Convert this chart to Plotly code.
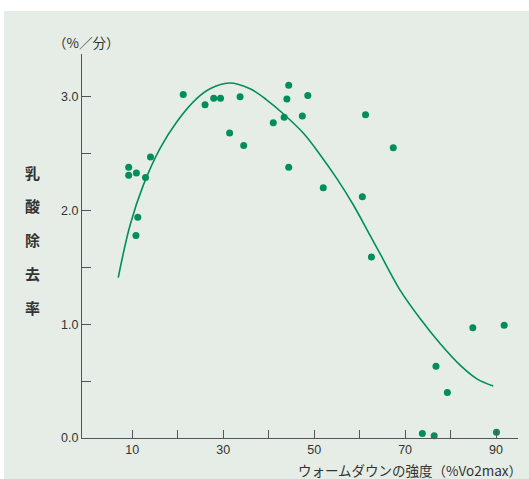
import plotly.graph_objects as go

# scatter data (% VO2max, lactate removal rate %/min)
pts_x = [9.2, 9.2, 10.9, 12.9, 14.0, 11.2, 10.8, 21.2, 26.0, 27.9, 29.4, 33.7, 31.4, 34.5,
         44.4, 44.0, 48.6, 41.0, 43.4, 47.4, 61.3, 67.4, 44.4, 52.0, 60.6,
         62.6, 84.9, 91.8, 76.8, 79.3, 73.8, 76.4, 90.1]
pts_y = [2.38, 2.31, 2.33, 2.29, 2.47, 1.94, 1.78, 3.02, 2.93, 2.985, 2.985, 3.00, 2.68, 2.57,
         3.10, 2.98, 3.01, 2.77, 2.82, 2.83, 2.84, 2.55, 2.38, 2.20, 2.12,
         1.59, 0.97, 0.99, 0.63, 0.40, 0.04, 0.02, 0.05]

# fitted curve
curve_x = [6.9, 9.5, 12.4, 16.1, 19.8, 24.2, 27.1, 31.3, 35.9, 39.6, 43.2, 47.6, 51.3,
           55.0, 58.6, 62.3, 64.5, 68.9, 73.3, 77.7, 82.1, 85.8, 89.4]
curve_y = [1.41, 1.87, 2.22, 2.545, 2.78, 2.985, 3.07, 3.12, 3.07, 2.97, 2.85, 2.68, 2.49,
           2.28, 2.05, 1.78, 1.62, 1.30, 1.05, 0.83, 0.64, 0.52, 0.457]

x_ticks = [10, 20, 30, 40, 50, 60, 70, 80, 90]
x_ticktext = ["10", "", "30", "", "50", "", "70", "", "90"]
y_ticks = [0, 0.5, 1.0, 1.5, 2.0, 2.5, 3.0]
y_ticktext = ["0.0", "", "1.0", "", "2.0", "", "3.0"]

y_title_chars = ["乳", "酸", "除", "去", "率"]
y_unit = "（%／分）"
x_title = "ウォームダウンの強度（%Vo2max）"

GREEN = "#008f5a"
BG = "#e6ede6"
AX = "#555555"
FONT = "Liberation Sans, Arial, Noto Sans CJK JP"

fig = go.Figure()
fig.add_trace(go.Scatter(x=curve_x, y=curve_y, mode="lines",
                         line=dict(color=GREEN, width=1.6, shape="spline"),
                         hoverinfo="skip", showlegend=False))
fig.add_trace(go.Scatter(x=pts_x, y=pts_y, mode="markers", cliponaxis=False,
                         marker=dict(color=GREEN, size=7), showlegend=False))

W, H = 529, 479
ml, mr, mt, mb = 82, 11, 54, 41
pw, ph = W - ml - mr, H - mt - mb

# background panel (white strip at top and left)
fig.add_shape(type="rect", xref="paper", yref="paper",
              x0=(4 - ml) / pw, x1=1.2, y0=-0.3, y1=(H - mb - 11) / ph,
              fillcolor=BG, line=dict(width=0), layer="below")

# vertical y-axis title, one character per line
for i, ch in enumerate(y_title_chars):
    py = 172 + i * 33.8
    fig.add_annotation(text="<b>" + ch + "</b>", xref="paper", yref="paper",
                       x=(32.5 - ml) / pw, y=(H - mb - py) / ph,
                       xanchor="center", yanchor="middle", showarrow=False,
                       font=dict(size=15, color="#333333", family="Noto Sans CJK JP"))

fig.add_annotation(text=y_unit, xref="paper", yref="paper",
                   x=(86 - ml) / pw, y=(H - mb - 41.5) / ph,
                   xanchor="center", yanchor="middle", showarrow=False,
                   font=dict(size=13.5, color="#333333", family="Noto Sans CJK JP"))

fig.add_annotation(text=x_title, xref="paper", yref="paper",
                   x=(524 - ml) / pw, y=(H - mb - 470) / ph,
                   xanchor="right", yanchor="middle", showarrow=False,
                   font=dict(size=13.5, color="#333333", family="Noto Sans CJK JP"))

fig.update_layout(
    width=W, height=H,
    margin=dict(l=ml, r=mr, t=mt, b=mb),
    paper_bgcolor="white", plot_bgcolor=BG,
    font=dict(family=FONT, size=12.5, color="#333333"),
    xaxis=dict(range=[-1.07, 94.84], tickvals=x_ticks, ticktext=x_ticktext,
               ticks="inside", ticklen=8, tickwidth=1.3, tickcolor=AX,
               showline=True, linecolor=AX, linewidth=1.3, showgrid=False,
               zeroline=False, fixedrange=True),
    yaxis=dict(range=[0, 3.375], tickvals=y_ticks, ticktext=y_ticktext,
               ticks="inside", ticklen=9, tickwidth=1.3, tickcolor=AX,
               showline=True, linecolor=AX, linewidth=1.3, showgrid=False,
               zeroline=False, fixedrange=True),
)

fig.write_html("out.html", config={"displayModeBar": False},
               post_script="document.body.style.margin='0';")
